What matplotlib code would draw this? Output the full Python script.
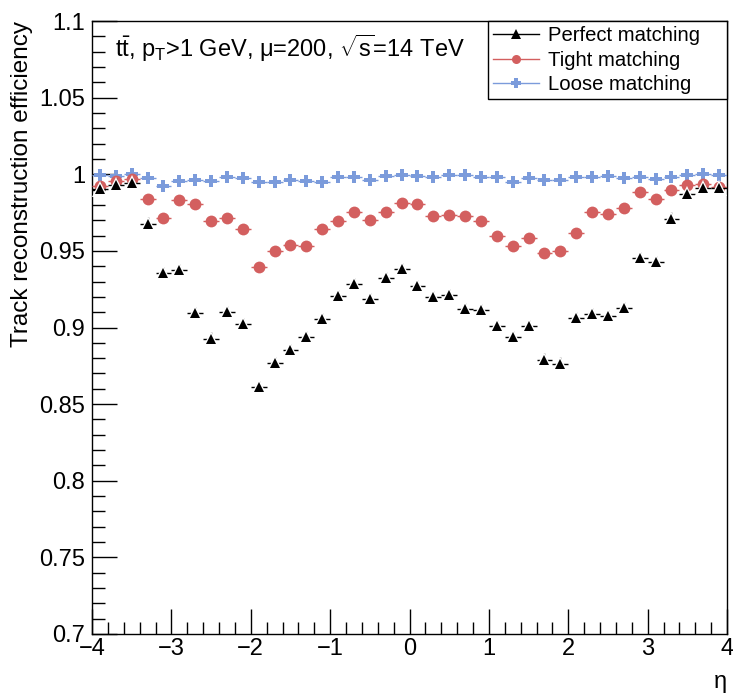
import matplotlib
matplotlib.use('Agg')
import matplotlib.pyplot as plt
import numpy as np
from matplotlib.ticker import MultipleLocator, FuncFormatter
from matplotlib.lines import Line2D

plt.rcParams['font.family'] = ['Liberation Sans', 'DejaVu Sans']
plt.rcParams['mathtext.fontset'] = 'custom'
plt.rcParams['mathtext.rm'] = 'Liberation Sans'
plt.rcParams['mathtext.it'] = 'Liberation Sans:italic'

# bin centres in eta (40 bins of width 0.2)
eta = np.round(np.arange(-3.9, 4.0, 0.2), 1)
eta_err = 0.1

perfect = [0.9907, 0.9933, 0.9943, 0.9678, 0.9357, 0.9374, 0.9096, 0.8928, 0.9102, 0.9020,
           0.8613, 0.8770, 0.8852, 0.8939, 0.9054, 0.9207, 0.9283, 0.9183, 0.9320, 0.9380,
           0.9270, 0.9200, 0.9211, 0.9120, 0.9113, 0.9009, 0.8939, 0.9011, 0.8791, 0.8765,
           0.9063, 0.9087, 0.9074, 0.9128, 0.9454, 0.9428, 0.9711, 0.9872, 0.9913, 0.9913]
tight = [0.9922, 0.9954, 0.9972, 0.9841, 0.9715, 0.9833, 0.9809, 0.9693, 0.9717, 0.9643,
         0.9398, 0.9502, 0.9541, 0.9533, 0.9641, 0.9693, 0.9752, 0.9700, 0.9752, 0.9815,
         0.9807, 0.9726, 0.9737, 0.9726, 0.9693, 0.9596, 0.9535, 0.9587, 0.9489, 0.9498,
         0.9615, 0.9754, 0.9741, 0.9783, 0.9883, 0.9841, 0.9900, 0.9928, 0.9935, 0.9917]
loose = [0.9993, 0.9989, 1.0000, 0.9976, 0.9926, 0.9959, 0.9965, 0.9959, 0.9985, 0.9974,
         0.9948, 0.9948, 0.9965, 0.9957, 0.9952, 0.9983, 0.9983, 0.9965, 0.9987, 0.9993,
         0.9987, 0.9983, 0.9993, 0.9993, 0.9983, 0.9983, 0.9952, 0.9978, 0.9965, 0.9961,
         0.9983, 0.9983, 0.9987, 0.9976, 0.9983, 0.9970, 0.9983, 0.9996, 1.0000, 0.9993]
perfect_err = 0.004
tight_err = 0.002
loose_err = 0.001

red = '#d35f5f'
blue = '#7b9bdb'

fig = plt.figure(figsize=(7.33, 7.0), dpi=100)
ax = fig.add_axes([92/733, 66/700, 635/733, 613/700])

ax.errorbar(eta, loose, xerr=eta_err, yerr=loose_err, fmt='P', color=blue, ms=8.5,
            mew=0, elinewidth=1, capsize=0, zorder=3)
ax.errorbar(eta, tight, xerr=eta_err, yerr=tight_err, fmt='o', color=red, ms=8.5,
            mew=0, elinewidth=1, capsize=0, zorder=4)
ax.errorbar(eta, perfect, xerr=eta_err, yerr=perfect_err, fmt='none', ecolor='black',
            elinewidth=1, capsize=0, zorder=5)
# white halo so the x error bars show a gap round the triangles
ax.plot(eta, perfect, '^', color='white', ms=12, mew=0, zorder=6)
ax.plot(eta, perfect, '^', color='black', ms=7.5, mew=0, zorder=7)

handles = [Line2D([], [], color='black', lw=1, marker='^', ms=6.5, mew=0),
           Line2D([], [], color=red, lw=1, marker='o', ms=6.5, mew=0),
           Line2D([], [], color=blue, lw=1, marker='P', ms=6.5, mew=0)]
labels = ['Perfect matching', 'Tight matching', 'Loose matching']
leg = ax.legend(handles, labels, loc='upper left', bbox_to_anchor=(0.6236, 0.876, 0.3764, 0.124),
                mode='expand', borderaxespad=0, fancybox=False, framealpha=1,
                edgecolor='black', fontsize=14.6, handlelength=2.25, handletextpad=0.45,
                labelspacing=0.28, borderpad=0.25)
leg.get_frame().set_linewidth(1)

ax.set_xlim(-4, 4)
ax.set_ylim(0.7, 1.1)
ax.xaxis.set_major_locator(MultipleLocator(1))
ax.xaxis.set_minor_locator(MultipleLocator(0.2))
ax.yaxis.set_major_locator(MultipleLocator(0.05))
ax.yaxis.set_minor_locator(MultipleLocator(0.01))
ax.yaxis.set_major_formatter(FuncFormatter(lambda v, p: '%g' % round(v, 3)))
ax.tick_params(which='both', direction='in', top=False, right=False, labelsize=17)
ax.tick_params(which='major', length=18, width=1)
ax.tick_params(axis='y', which='major', pad=5)
ax.tick_params(axis='x', which='major', pad=3)
ax.tick_params(which='minor', length=9, width=1)
for s in ax.spines.values():
    s.set_linewidth(1)

ax.set_ylabel('Track reconstruction efficiency', fontsize=17.5, loc='top', labelpad=4)
ax.set_xlabel('η', fontsize=17, loc='right', labelpad=8)

ax.text(0.037, 0.955, r'$\mathrm{t\bar{t}}$, p$_\mathrm{T}$>1 GeV, μ=200, $\sqrt{\mathrm{s}}$=14 TeV',
        transform=ax.transAxes, fontsize=17, va='center', ha='left')

fig.savefig('out.png', dpi=100)
